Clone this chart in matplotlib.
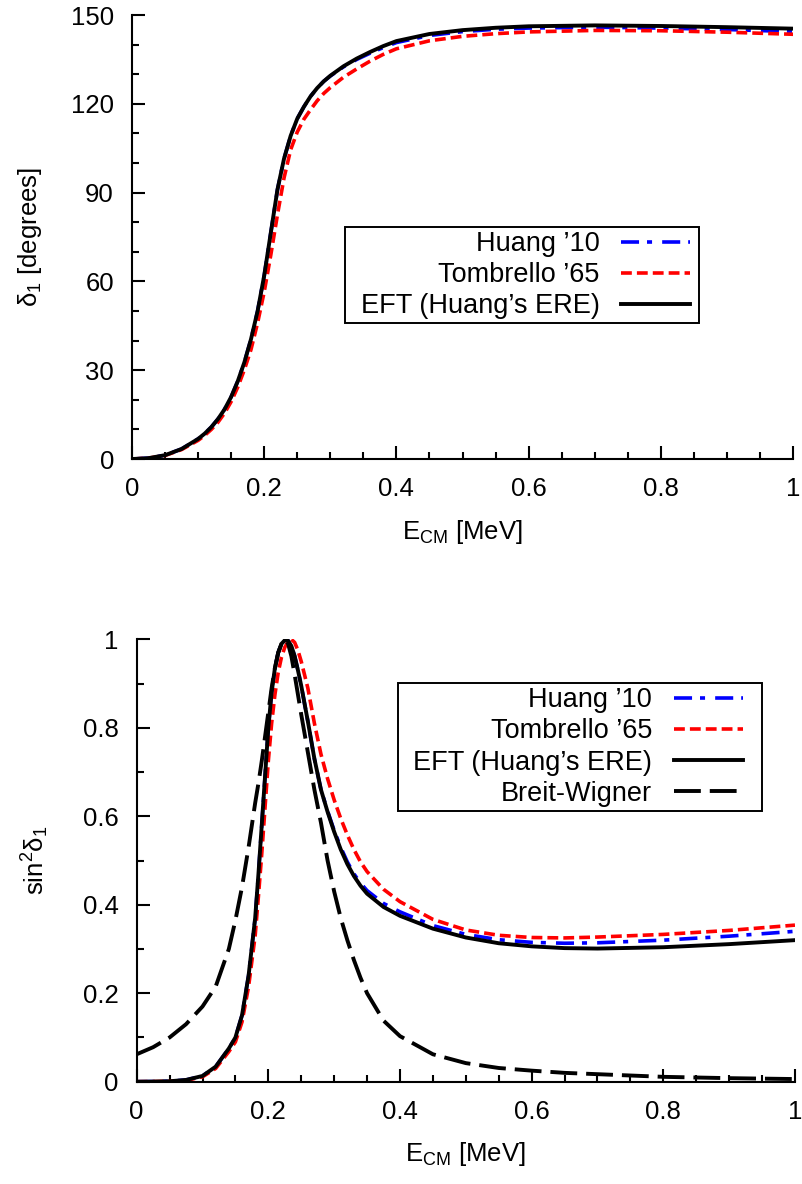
import matplotlib
matplotlib.use("Agg")
import matplotlib.pyplot as plt
from matplotlib.patches import Rectangle
from matplotlib.ticker import MultipleLocator, FuncFormatter

plt.rcParams['font.family'] = ['Liberation Sans', 'DejaVu Sans']
plt.rcParams['mathtext.fontset'] = 'custom'
plt.rcParams['mathtext.rm'] = 'Liberation Sans'
plt.rcParams['mathtext.it'] = 'Liberation Sans'
plt.rcParams['mathtext.default'] = 'regular'

# phase shift delta_1 [degrees] vs E_CM [MeV]
e_top = [0, 0.025, 0.05, 0.075, 0.1, 0.11, 0.12, 0.13, 0.14, 0.15, 0.16, 0.17, 0.18, 0.19,
         0.2, 0.21, 0.22, 0.23, 0.24, 0.25, 0.26, 0.27, 0.28, 0.29, 0.3, 0.32, 0.34, 0.36,
         0.38, 0.4, 0.45, 0.5, 0.55, 0.6, 0.7, 0.8, 0.9, 1.0]
delta_eft = [0, 0.3, 1.3, 3.4, 6.8, 8.6, 10.8, 13.5, 16.8, 21, 26.3, 32.7, 40.5, 50,
             62, 76.5, 91, 101.5, 109.2, 115, 119, 122.5, 125.3, 127.6, 129.5, 132.7, 135.3, 137.5,
             139.5, 141.2, 143.6, 144.9, 145.7, 146.2, 146.5, 146.3, 145.9, 145.4]
delta_huang = [0, 0.3, 1.3, 3.4, 6.8, 8.6, 10.8, 13.5, 16.8, 21, 26.3, 32.7, 40.5, 50,
               62, 76.5, 91, 101.5, 109.2, 115, 119, 122.5, 125.3, 127.6, 129.4, 132.5, 135.0, 137.1,
               139.0, 140.7, 143.1, 144.4, 145.2, 145.6, 145.9, 145.6, 145.1, 144.4]
delta_tomb = [0, 0.3, 1.2, 3.2, 6.3, 8.0, 10.0, 12.4, 15.5, 19.4, 24.3, 30.2, 37, 46,
              56.5, 69, 82.5, 95, 104.5, 110.5, 114.8, 118, 121, 123.5, 125.5, 129, 131.8, 134.4,
              136.7, 138.6, 141.3, 142.8, 143.7, 144.3, 144.8, 144.7, 144.2, 143.5]

# sin^2 delta_1 vs E_CM [MeV]
e_bot = [0, 0.025, 0.05, 0.075, 0.1, 0.12, 0.14, 0.15, 0.16, 0.17, 0.18, 0.185, 0.19, 0.195,
         0.2, 0.205, 0.21, 0.215, 0.22, 0.225, 0.23, 0.235, 0.24, 0.245, 0.25, 0.26, 0.27, 0.28,
         0.29, 0.3, 0.31, 0.32, 0.33, 0.34, 0.35, 0.375, 0.4, 0.45, 0.5, 0.55, 0.6, 0.65,
         0.7, 0.8, 0.9, 1.0]
sin2_eft = [0, 0.0003, 0.001, 0.004, 0.013, 0.034, 0.075, 0.1, 0.15, 0.24, 0.37, 0.47, 0.58, 0.69,
            0.8, 0.88, 0.935, 0.97, 0.99, 0.998, 0.997, 0.985, 0.962, 0.93, 0.895, 0.815, 0.73, 0.66,
            0.61, 0.565, 0.525, 0.492, 0.465, 0.443, 0.425, 0.395, 0.375, 0.346, 0.326, 0.313, 0.306, 0.302,
            0.301, 0.304, 0.311, 0.32]
sin2_huang = [0, 0.0003, 0.001, 0.004, 0.013, 0.034, 0.075, 0.1, 0.15, 0.24, 0.37, 0.47, 0.58, 0.69,
              0.8, 0.88, 0.935, 0.97, 0.99, 0.998, 0.997, 0.985, 0.962, 0.93, 0.895, 0.815, 0.73, 0.66,
              0.612, 0.568, 0.53, 0.497, 0.47, 0.449, 0.432, 0.403, 0.384, 0.353, 0.333, 0.321, 0.315, 0.313,
              0.314, 0.32, 0.329, 0.34]
sin2_tomb = [0, 0.0003, 0.001, 0.003, 0.011, 0.03, 0.068, 0.09, 0.135, 0.215, 0.33, 0.42, 0.515, 0.62,
             0.725, 0.81, 0.875, 0.925, 0.96, 0.982, 0.995, 1.0, 0.993, 0.975, 0.95, 0.89, 0.81, 0.74,
             0.685, 0.637, 0.595, 0.558, 0.525, 0.497, 0.475, 0.435, 0.407, 0.367, 0.343, 0.331, 0.326, 0.325,
             0.327, 0.333, 0.342, 0.354]
sin2_bw = [0.062, 0.078, 0.1, 0.13, 0.17, 0.215, 0.3, 0.365, 0.44, 0.53, 0.63, 0.675, 0.725, 0.78,
           0.835, 0.89, 0.935, 0.97, 0.99, 1.0, 0.99, 0.962, 0.92, 0.875, 0.83, 0.745, 0.66, 0.585,
           0.5, 0.43, 0.37, 0.32, 0.275, 0.235, 0.2, 0.138, 0.103, 0.062, 0.042, 0.031, 0.025, 0.02,
           0.017, 0.011, 0.008, 0.006]

labels = ['Huang \u201910', 'Tombrello \u201965', 'EFT (Huang\u2019s ERE)', 'Breit-Wigner']

fs = 18.5
lfs = 19.5
W, H = 803, 1184
fig = plt.figure(figsize=(W / 100, H / 100), dpi=100)
ax1 = fig.add_axes([0.1644, 0.6123, 0.8232, 0.375])
ax2 = fig.add_axes([0.1702, 0.0864, 0.8198, 0.3736])


def fmt(v, pos):
    s = ('%.1f' % v).rstrip('0').rstrip('.')
    return s


def style(ax):
    for side in ['top', 'right']:
        ax.spines[side].set_visible(False)
    for side in ['left', 'bottom']:
        ax.spines[side].set_linewidth(1.5)
    ax.tick_params(which='both', direction='in', top=False, right=False,
                   labelsize=fs, width=1.5, pad=13)
    ax.tick_params(which='major', length=9.5)
    ax.tick_params(which='minor', length=5)
    ax.set_xlim(0, 1)
    ax.xaxis.set_major_locator(MultipleLocator(0.2))
    ax.xaxis.set_minor_locator(MultipleLocator(0.05))
    ax.xaxis.set_major_formatter(FuncFormatter(fmt))
    ax.set_xlabel(r'E$_{CM}$ [MeV]', fontsize=fs, labelpad=12)


def add_legend(ax, anchor):
    # gnuplot style key: text right-justified, sample after it, frame drawn later
    leg = ax.legend(loc='upper right', bbox_to_anchor=anchor, markerfirst=False,
                    fontsize=lfs, handlelength=2.55, handletextpad=0.8, labelspacing=0.19,
                    borderpad=0.15, borderaxespad=0, frameon=False)
    return leg


def key_frame(leg, extra_left, extra_right):
    fig.canvas.draw()
    bb = leg.get_window_extent()
    x0 = (bb.x0 - extra_left) / W
    x1 = (bb.x1 + extra_right) / W
    fig.add_artist(Rectangle((x0, bb.y0 / H), x1 - x0, bb.height / H,
                             transform=fig.transFigure, facecolor='none',
                             edgecolor='black', linewidth=1.4, zorder=10))


lw_c = 2.6
lw_k = 2.8
dash_huang = (5, 2.2, 1.4, 2.8)
dash_tomb = (3.0, 1.4)
dash_bw = (6.9, 2.3)

ax1.plot(e_top, delta_huang, color='#0000ff', lw=lw_c, dashes=dash_huang, label=labels[0])
ax1.plot(e_top, delta_tomb, color='#ff0000', lw=lw_c, dashes=dash_tomb, label=labels[1])
ax1.plot(e_top, delta_eft, color='black', lw=lw_k, label=labels[2])
style(ax1)
ax1.set_ylim(0, 150)
ax1.yaxis.set_major_locator(MultipleLocator(30))
ax1.yaxis.set_minor_locator(MultipleLocator(10))
ax1.set_ylabel(r'$\delta_1$ [degrees]', fontsize=fs, labelpad=19)
leg1 = add_legend(ax1, (0.851, 0.5225))

ax2.plot(e_bot, sin2_huang, color='#0000ff', lw=lw_c, dashes=dash_huang, label=labels[0])
ax2.plot(e_bot, sin2_tomb, color='#ff0000', lw=lw_c, dashes=dash_tomb, label=labels[1])
ax2.plot(e_bot, sin2_eft, color='black', lw=lw_k, label=labels[2])
ax2.plot(e_bot, sin2_bw, color='black', lw=lw_k, dashes=dash_bw, label=labels[3])
style(ax2)
ax2.set_ylim(0, 1)
ax2.yaxis.set_major_locator(MultipleLocator(0.2))
ax2.yaxis.set_minor_locator(MultipleLocator(0.1))
ax2.yaxis.set_major_formatter(FuncFormatter(fmt))
ax2.set_ylabel(r'sin$^2\delta_1$', fontsize=fs, labelpad=23)
leg2 = add_legend(ax2, (0.927, 0.901))

key_frame(leg1, 12, 4)
key_frame(leg2, 11, 15)

fig.savefig('out.png', dpi=100)
